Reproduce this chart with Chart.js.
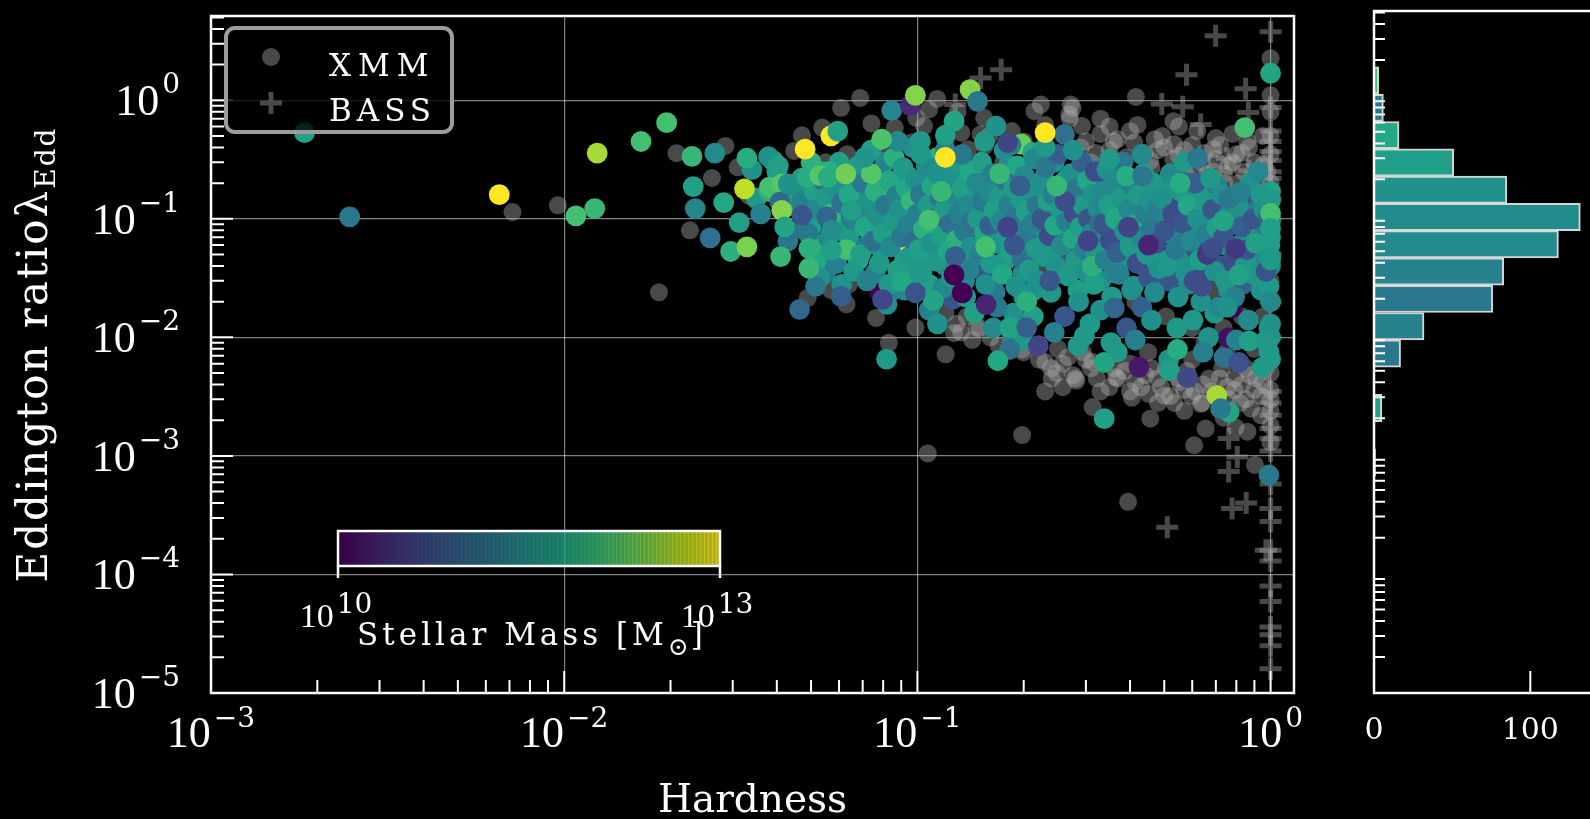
<!DOCTYPE html>
<html>
<head>
<meta charset="utf-8">
<title>Hardness vs Eddington ratio</title>
<script src="https://cdn.jsdelivr.net/npm/chart.js@4.4.1/dist/chart.umd.min.js"></script>
<style>
  html, body { margin: 0; padding: 0; background: #000; overflow: hidden; }
  #mainCanvas { position: absolute; left: 0; top: 0; }
  #histCanvas { position: absolute; left: 1310px; top: 0; }
</style>
</head>
<body>
<canvas id="mainCanvas" width="1310" height="819"></canvas>
<canvas id="histCanvas" width="280" height="819"></canvas>
<script>
// ---- values ----

// XMM sample, grey dots: [hardness, Eddington ratio]
const xmmPoints = [
  [0.00714,0.114],[0.0096,0.130],[0.01855,0.024],[0.0208,0.358],[0.0262,0.221],[0.0227,0.080],[0.0310,0.272],[0.0286,0.412],[0.0471,0.506],[0.0608,0.864],
  [0.0689,1.047],[0.0741,0.638],[0.1138,1.027],[0.1545,0.712],[0.0489,0.0215],[0.0764,0.0146],[0.0987,0.0121],[0.1202,0.0072],[0.127,0.0109],[0.198,0.0079],
  [0.198,0.0015],[0.107,0.00105],[0.3135,0.00258],[0.4564,0.00206],[0.6077,0.00123],[0.655,0.0017],[0.796,0.00174],[0.3649,0.0046],[0.282,0.00432],[0.452,0.00334],
  [0.50,0.00323],[0.634,0.00275],[0.395,0.00041],[0.903,0.00084],[0.4156,1.068],[0.531,0.667],[1.0,2.26],
  [0.0538,0.588],[0.0633,0.351],[0.0448,0.374],[0.0333,0.157],[0.0348,0.143],
  [0.0863,0.588],[0.1044,0.606],[0.1079,0.836],[0.0993,0.712],[0.1331,0.533],[0.151,0.516],[0.2146,0.81],[0.2237,0.92],[0.2695,0.76],[0.2717,0.92],
  [0.0962,0.44],[0.1391,0.387],[0.155,0.412],
  [0.275,0.864],[0.2925,0.606],[0.369,0.469],[0.411,0.44],[0.494,0.50],[0.533,0.426],[0.688,0.387],[0.6626,0.239],[0.738,0.239],[0.869,0.40],
  [0.958,0.29],[0.457,0.309],[0.574,0.29],
  [0.30,0.45],[0.33,0.52],[0.35,0.38],[0.39,0.33],[0.48,0.38],[0.55,0.34],[0.60,0.42],[0.64,0.30],[0.70,0.32],[0.78,0.30],
  [0.83,0.36],[0.88,0.22],[0.81,0.20],[0.51,0.22],[0.62,0.19],[0.72,0.16],[0.37,0.27],[0.31,0.30],[0.24,0.33],[0.20,0.28],
  [0.175,0.30],[0.42,0.62],[0.33,0.70],[0.23,0.62],[0.185,0.55],[0.13,0.80],[0.12,0.45],[0.083,0.38],[0.055,0.30],[0.051,0.17],
  [0.064,0.20],[1.0,0.50],[1.0,0.80],[1.0,1.10],[1.0,0.35],[1.0,0.20],[0.96,0.13],[1.0,0.09],
  [0.26,0.5],[0.29,0.4],[0.32,0.36],[0.36,0.45],[0.4,0.55],[0.44,0.36],[0.47,0.47],[0.5,0.4],[0.53,0.32],[0.57,0.38],
  [0.61,0.27],[0.65,0.36],[0.69,0.25],[0.72,0.42],[0.76,0.28],[0.8,0.35],[0.84,0.25],[0.86,0.45],[0.9,0.3],[0.93,0.18],
  [0.95,0.5],[0.98,0.25],[0.4,0.22],[0.46,0.27],[0.58,0.23],[0.66,0.2],[0.74,0.2],[0.82,0.17],[0.9,0.14],[0.55,0.6],
  [0.62,0.55],[0.7,0.48],[0.78,0.52],[0.35,0.6],[0.27,0.7],[0.2,0.45],[0.16,0.5],[0.22,0.36],
  [0.129,0.013],[0.138,0.015],[0.133,0.011],[0.147,0.012],[0.12,0.016],[0.143,0.0095],[0.161,0.010],[0.184,0.009],[0.23,0.0062],[0.221,0.0065],
  [0.239,0.0055],[0.248,0.005],[0.258,0.006],[0.276,0.0048],[0.267,0.0068],[0.294,0.0075],[0.313,0.0062],[0.322,0.0045],[0.35,0.0038],[0.386,0.0052],
  [0.414,0.0042],[0.442,0.0048],[0.478,0.0045],[0.506,0.0055],[0.552,0.0042],[0.57,0.0036],[0.598,0.0032],[0.644,0.004],[0.68,0.0035],[0.718,0.0045],
  [0.754,0.0038],[0.79,0.0045],[0.83,0.004],[0.85,0.003],[0.874,0.0048],[0.9,0.0036],[0.95,0.0042],[1.0,0.003],[1.0,0.0024],[1.0,0.0018],
  [1.0,0.0013],[0.94,0.0022],[0.86,0.0016],[0.736,0.0021],[0.57,0.0024],[0.534,0.0028],[0.405,0.0031],[0.258,0.0038],[0.23,0.0035],[0.083,0.009],
  [0.063,0.019],[0.064,0.028],[0.057,0.025],
  [0.2,0.0075],[0.25,0.008],[0.28,0.0045],[0.31,0.0055],[0.33,0.0035],[0.37,0.0045],[0.4,0.006],[0.43,0.0038],[0.46,0.0055],[0.49,0.0038],
  [0.52,0.0032],[0.55,0.0045],[0.58,0.0052],[0.61,0.0035],[0.64,0.0028],[0.67,0.0045],[0.7,0.0032],[0.73,0.0055],[0.76,0.003],[0.79,0.0036],
  [0.82,0.0028],[0.85,0.0055],[0.88,0.0025],[0.91,0.0045],[0.94,0.0032],[0.97,0.0055],[1.0,0.0036],[1.0,0.005],[0.48,0.0028],[0.4,0.0035],
  [0.36,0.0055],[0.3,0.0065],[0.17,0.0085],[0.15,0.012],[0.24,0.0045],[0.6,0.0065],[0.75,0.0075],[0.9,0.008],[0.65,0.009],[0.45,0.0075],
  [0.083,0.20],[0.11,0.15],[0.138,0.10],[0.184,0.06],[0.23,0.04],[0.322,0.03],[0.414,0.02],[0.506,0.015],[0.598,0.012],[0.69,0.025],
  [0.78,0.06],[0.874,0.10],[0.552,0.10],[0.46,0.15],[0.368,0.10],[0.276,0.15],[0.23,0.10],[0.184,0.20],[0.644,0.07],[0.736,0.012],
  [0.83,0.015],[0.95,0.015],[1.0,0.03],[1.0,0.06],[1.0,0.007]
];

// BASS sample, grey crosses: [hardness, Eddington ratio]
const bassPoints = [
  [0.699,3.5],[1.0,3.78],[0.578,1.64],[0.85,1.25],[0.492,0.93],[0.564,0.88],[0.634,0.626],[0.865,0.79],[0.752,0.325],[0.869,0.255],
  [0.1727,1.81],[0.151,1.54],[0.128,0.92],
  [1.0,0.87],[1.0,0.55],[1.0,0.45],[1.0,0.37],[1.0,0.31],[1.0,0.25],[1.0,0.22],[1.0,0.15],[1.0,0.10],[1.0,0.05],[1.0,0.02],[1.0,0.01],
  [1.0,0.0035],[1.0,0.0028],[1.0,0.0022],[1.0,0.0017],[1.0,0.0014],[1.0,0.0011],[1.0,0.00058],[1.0,0.00036],[1.0,0.00028],[1.0,0.00016],
  [1.0,0.00013],[1.0,0.00008],[1.0,0.000059],[1.0,0.000036],[1.0,0.000031],[1.0,0.000025],[1.0,0.000016],
  [0.761,0.0014],[0.805,0.00098],[0.761,0.00074],[0.778,0.00036],[0.853,0.0004],[0.51,0.00025],[0.97,0.00016]
];

// XMM sources with a stellar mass (coloured dots): [hardness, Eddington ratio]
const massPoints = [
  // inside the cloud
  [0.197,0.426],[0.212,0.363],[0.261,0.516],[0.0734,0.176],[0.0937,0.143],[0.0935,0.060],[0.0892,0.0777],[0.1657,0.138],[0.1453,0.148],[0.197,0.191],
  [0.2695,0.0728],[0.2497,0.0545],[0.3135,0.19],[0.338,0.134],[0.349,0.062],[0.551,0.060],[0.594,0.0465],[0.778,0.0177],[0.2755,0.0752],[0.0782,0.024],
  [0.424,0.0056],[0.761,0.0099],
  // dense core
  [0.047,0.22],[0.049,0.12],[0.050,0.085],[0.052,0.16],[0.053,0.06],[0.054,0.25],[0.055,0.035],[0.057,0.18],[0.058,0.09],[0.059,0.13],
  [0.060,0.05],[0.062,0.21],[0.063,0.145],[0.064,0.07],[0.066,0.11],[0.067,0.26],[0.068,0.045],[0.069,0.17],[0.071,0.13],[0.072,0.06],
  [0.073,0.22],[0.075,0.095],[0.076,0.035],[0.078,0.16],[0.079,0.055],[0.081,0.3],[0.082,0.09],[0.084,0.13],[0.085,0.025],[0.087,0.2],
  [0.089,0.08],[0.090,0.15],[0.092,0.045],[0.094,0.23],[0.096,0.1],[0.098,0.035],[0.099,0.16],
  [0.101,0.075],[0.103,0.14],[0.105,0.045],[0.106,0.2],[0.108,0.028],[0.110,0.12],[0.112,0.065],[0.114,0.33],[0.116,0.09],[0.118,0.16],
  [0.120,0.04],[0.122,0.23],[0.124,0.14],[0.126,0.021],[0.128,0.085],[0.130,0.19],[0.132,0.06],[0.134,0.12],[0.136,0.03],[0.138,0.22],
  [0.141,0.085],[0.143,0.15],[0.146,0.048],[0.148,0.27],[0.151,0.11],[0.154,0.035],[0.157,0.19],[0.160,0.065],[0.163,0.13],[0.166,0.024],
  [0.169,0.22],[0.172,0.08],[0.175,0.15],[0.178,0.045],[0.181,0.28],[0.184,0.11],[0.187,0.016],[0.190,0.17],[0.193,0.06],[0.196,0.1],
  [0.199,0.035],[0.202,0.21],[0.205,0.14],[0.208,0.05],[0.211,0.12],[0.214,0.025],[0.217,0.18],[0.220,0.07],
  [0.224,0.13],[0.228,0.22],[0.232,0.09],[0.236,0.05],[0.240,0.12],[0.244,0.3],[0.248,0.07],[0.252,0.17],[0.256,0.035],[0.260,0.11],
  [0.265,0.22],[0.270,0.05],[0.275,0.14],[0.280,0.08],[0.285,0.025],[0.290,0.19],[0.295,0.1],[0.300,0.06],[0.305,0.27],[0.310,0.14],
  [0.315,0.04],[0.320,0.09],[0.325,0.2],[0.330,0.03],[0.336,0.11],[0.342,0.06],[0.348,0.2],[0.354,0.15],[0.360,0.035],[0.366,0.12],
  [0.372,0.07],[0.378,0.22],[0.384,0.045],[0.390,0.16],[0.397,0.09],[0.404,0.025],[0.411,0.12],[0.418,0.06],[0.425,0.21],[0.432,0.1],
  [0.440,0.04],[0.448,0.17],[0.456,0.065],[0.464,0.11],[0.472,0.03],[0.480,0.19],[0.488,0.09],[0.496,0.045],
  [0.505,0.12],[0.515,0.03],[0.525,0.18],[0.535,0.07],[0.545,0.13],[0.555,0.045],[0.565,0.1],[0.575,0.2],[0.585,0.028],[0.595,0.085],
  [0.605,0.15],[0.615,0.055],[0.625,0.11],[0.635,0.02],[0.645,0.17],[0.655,0.04],[0.665,0.09],[0.675,0.13],[0.685,0.06],[0.695,0.016],
  [0.705,0.19],[0.715,0.1],[0.725,0.04],[0.735,0.13],[0.745,0.06],[0.76,0.025],[0.775,0.09],[0.79,0.045],[0.805,0.15],[0.82,0.06],
  [0.835,0.028],[0.85,0.11],[0.865,0.07],[0.88,0.035],[0.895,0.16],[0.91,0.05],[0.925,0.12],[0.94,0.025],[0.955,0.08],[0.97,0.045],
  [0.98,0.16],[0.99,0.012],[1.0,0.04],[1.0,0.07],[1.0,0.095],[1.0,0.17],[1.0,0.0065],[1.0,0.01],
  // cloud, hardness 0.033-0.046
  [0.034,0.26],[0.035,0.15],[0.036,0.11],[0.038,0.17],[0.040,0.25],[0.042,0.16],[0.043,0.065],[0.044,0.13],[0.041,0.048],[0.039,0.31],
  // 0.046-0.068
  [0.046,0.19],[0.047,0.14],[0.048,0.095],[0.049,0.075],[0.050,0.30],[0.051,0.17],[0.0515,0.12],[0.052,0.045],[0.053,0.032],[0.054,0.21],
  [0.055,0.15],[0.056,0.068],[0.057,0.11],[0.058,0.19],[0.059,0.042],[0.060,0.30],[0.061,0.135],[0.062,0.078],[0.063,0.055],[0.0635,0.22],
  [0.064,0.16],[0.065,0.10],[0.066,0.036],[0.0515,0.027],[0.056,0.25],[0.061,0.028],
  // 0.068-0.1
  [0.068,0.28],[0.069,0.12],[0.069,0.05],[0.070,0.20],[0.071,0.085],[0.072,0.03],[0.073,0.14],[0.074,0.38],[0.075,0.065],[0.076,0.17],
  [0.077,0.105],[0.078,0.042],[0.079,0.25],[0.080,0.075],[0.081,0.13],[0.082,0.019],[0.083,0.21],[0.084,0.058],[0.085,0.095],[0.086,0.33],
  [0.087,0.155],[0.088,0.037],[0.089,0.12],[0.090,0.07],[0.091,0.27],[0.092,0.025],[0.093,0.18],[0.094,0.088],[0.095,0.048],[0.096,0.14],
  [0.097,0.40],[0.098,0.065],[0.074,0.24],[0.083,0.028],[0.088,0.45],
  // 0.1-0.148
  [0.099,0.21],[0.100,0.11],[0.101,0.055],[0.102,0.16],[0.103,0.035],[0.104,0.082],[0.106,0.28],[0.107,0.13],[0.108,0.017],[0.109,0.062],
  [0.110,0.19],[0.111,0.10],[0.113,0.044],[0.114,0.24],[0.116,0.15],[0.117,0.072],[0.118,0.026],[0.119,0.12],[0.120,0.38],[0.122,0.053],
  [0.123,0.20],[0.124,0.09],[0.125,0.032],[0.127,0.16],[0.129,0.066],[0.130,0.29],[0.131,0.11],[0.133,0.042],[0.134,0.18],[0.136,0.078],
  [0.137,0.022],[0.139,0.13],[0.141,0.25],[0.142,0.058],[0.143,0.095],[0.145,0.016],[0.102,0.45],[0.114,0.013],[0.134,0.35],[0.108,0.098],
  [0.128,0.048],[0.117,0.17],[0.140,0.037],
  // 0.148-0.22
  [0.147,0.20],[0.148,0.10],[0.150,0.05],[0.152,0.30],[0.153,0.14],[0.155,0.075],[0.156,0.028],[0.158,0.17],[0.160,0.088],[0.161,0.042],
  [0.163,0.24],[0.165,0.12],[0.167,0.062],[0.168,0.018],[0.170,0.155],[0.172,0.095],[0.174,0.034],[0.176,0.38],[0.178,0.21],[0.179,0.07],
  [0.181,0.13],[0.183,0.052],[0.185,0.011],[0.187,0.18],[0.189,0.105],[0.190,0.027],[0.192,0.28],[0.194,0.08],[0.196,0.145],[0.198,0.046],
  [0.200,0.022],[0.201,0.23],[0.203,0.115],[0.205,0.065],[0.207,0.037],[0.209,0.165],[0.211,0.09],[0.213,0.015],[0.214,0.32],[0.216,0.056],
  [0.218,0.13],[0.220,0.03],[0.155,0.45],[0.184,0.42],[0.164,0.012],[0.199,0.0095],[0.171,0.24],[0.188,0.06],[0.204,0.02],[0.156,0.058],
  [0.180,0.085],[0.195,0.19],
  // 0.22-0.33
  [0.223,0.19],[0.225,0.10],[0.228,0.048],[0.231,0.27],[0.234,0.14],[0.236,0.072],[0.239,0.024],[0.242,0.16],[0.245,0.088],[0.247,0.04],
  [0.250,0.35],[0.253,0.12],[0.256,0.06],[0.258,0.20],[0.261,0.015],[0.264,0.095],[0.267,0.033],[0.270,0.15],[0.272,0.24],[0.275,0.068],
  [0.278,0.11],[0.281,0.045],[0.283,0.18],[0.286,0.02],[0.289,0.085],[0.292,0.30],[0.294,0.13],[0.297,0.055],[0.300,0.036],[0.303,0.21],
  [0.305,0.10],[0.308,0.013],[0.311,0.075],[0.314,0.16],[0.316,0.028],[0.319,0.25],[0.322,0.05],[0.325,0.12],[0.328,0.09],[0.330,0.017],
  [0.230,0.40],[0.276,0.38],[0.244,0.011],[0.285,0.0085],[0.262,0.14],[0.304,0.065],[0.248,0.19],[0.313,0.04],[0.237,0.03],
  // 0.33-0.48
  [0.333,0.17],[0.337,0.09],[0.340,0.045],[0.344,0.26],[0.348,0.13],[0.351,0.066],[0.355,0.022],[0.359,0.20],[0.363,0.10],[0.368,0.052],
  [0.373,0.034],[0.377,0.15],[0.382,0.30],[0.386,0.078],[0.391,0.012],[0.396,0.12],[0.400,0.058],[0.405,0.19],[0.409,0.027],[0.414,0.09],
  [0.419,0.042],[0.423,0.16],[0.428,0.07],[0.432,0.018],[0.437,0.24],[0.442,0.11],[0.446,0.05],[0.451,0.032],[0.455,0.14],[0.460,0.082],
  [0.465,0.20],[0.469,0.024],[0.474,0.062],[0.478,0.12],[0.483,0.038],[0.368,0.0075],[0.414,0.0095],[0.460,0.014],[0.350,0.32],[0.432,0.35],
  [0.396,0.085],[0.451,0.06],
  // 0.49-0.71
  [0.492,0.15],[0.501,0.08],[0.511,0.04],[0.520,0.24],[0.529,0.11],[0.538,0.055],[0.547,0.022],[0.557,0.17],[0.566,0.092],[0.575,0.035],
  [0.584,0.13],[0.593,0.065],[0.603,0.014],[0.612,0.20],[0.621,0.10],[0.630,0.045],[0.639,0.027],[0.649,0.14],[0.658,0.075],[0.667,0.01],
  [0.676,0.22],[0.685,0.12],[0.695,0.036],[0.704,0.085],[0.713,0.018],[0.515,0.0065],[0.570,0.30],[0.644,0.0075],[0.543,0.012],[0.607,0.03],
  [0.662,0.05],
  // 0.72-1
  [0.727,0.16],[0.736,0.07],[0.745,0.03],[0.764,0.11],[0.782,0.045],[0.791,0.022],[0.810,0.13],[0.828,0.085],[0.846,0.04],[0.865,0.014],
  [0.874,0.20],[0.892,0.10],[0.911,0.033],[0.920,0.25],[0.938,0.16],[0.948,0.07],[0.957,0.12],[0.99,0.027],[1.0,0.02],[0.995,0.06],
  [0.97,0.036],[1.0,0.013],[0.99,0.0075],[0.80,0.0095],[0.754,0.018],[0.856,0.055],[0.985,0.10],
  // edges and outliers
  [0.00184,0.533],[0.00247,0.104],[0.00655,0.160],[0.0108,0.106],[0.0122,0.122],[0.0124,0.358],[0.0165,0.449],[0.0195,0.647],[0.0230,0.336],[0.0232,0.187],
  [0.0235,0.122],[0.0267,0.358],[0.0283,0.137],[0.0259,0.069],[0.0313,0.093],[0.0296,0.053],[0.0329,0.058],[0.0329,0.325],[0.0324,0.179],[0.0379,0.334],
  [0.0481,0.387],[0.0569,0.50],[0.0595,0.55],[0.0792,0.469],[0.0846,0.82],[0.0954,0.903],[0.0987,1.10],[0.127,0.667],[0.120,0.507],[0.141,1.23],
  [0.148,0.98],[0.167,0.606],[0.120,0.33],[0.230,0.533],[0.180,0.44],[1.0,1.69],[0.845,0.588],[0.621,0.323],[0.391,0.229],[0.434,0.229],
  [0.555,0.20],[0.760,0.148],[0.820,0.168],[1.0,0.143],[1.0,0.111],[0.735,0.096],[1.0,0.083],[0.907,0.062],[0.684,0.0563],[0.796,0.0563],
  [1.0,0.048],[0.0464,0.0172],[0.0493,0.0383],[0.0493,0.0563],[0.0608,0.0222],[0.0797,0.0208],[0.0818,0.00655],[0.111,0.0204],[0.0899,0.0296],[0.0987,0.0237],
  [0.134,0.0237],[0.1565,0.0189],[0.1825,0.0121],[0.1825,0.0079],[0.169,0.00635],[0.204,0.0121],[0.220,0.0085],[0.127,0.0337],[0.338,0.00206],[0.704,0.00323],
  [0.763,0.00234],[0.722,0.0025],[0.338,0.00614],[0.353,0.00903],[0.517,0.00523],[0.545,0.0079],[0.582,0.00458],[0.738,0.00676],[0.814,0.00614],[0.947,0.00557],
  [0.869,0.00933],[0.968,0.00933],[0.989,0.00069],[0.814,0.0337],[1.0,0.045],[0.297,0.0103],[0.361,0.0177],[0.0404,0.28],[0.0381,0.185],[0.0413,0.197],
  [0.0408,0.138],[0.0413,0.118],[0.0431,0.197],[0.0437,0.0777],[0.0421,0.0855],[0.0471,0.107],[0.0487,0.224],[0.0529,0.231],[0.0559,0.224],[0.0627,0.239],
  [0.0554,0.104],[0.0571,0.080],[0.0571,0.0545],[0.0650,0.118],[0.1022,0.351],[0.0710,0.33]
];

// log10 stellar mass [Msun] of massPoints, same order
const massLog = [
  12.3,11.8,11.1,10.0,10.0,13.2,10.0,10.3,10.15,12.8,
  10.0,12.7,10.0,10.3,12.8,10.0,12.8,10.0,10.2,10.0,
  10.2,10.1,
  11.6,11.3,11.7,11.4,11.9,11.5,11.2,11.6,11.8,11.4, 11.5,11.7,11.3,11.6,10.9,11.5,11.8,11.4,11.6,11.2, 11.5,11.7,11.3,12.0,11.5,11.4,11.6,11.8,11.3,11.5, 11.6,11.2,11.7,11.5,11.4,11.6,11.9,
  11.5,10.8,11.6,11.4,11.7,11.3,11.5,11.9,10.9,11.6, 11.4,11.5,11.7,10.8,11.6,11.3,11.5,12.0,11.4,11.6, 10.9,11.5,11.7,11.3,11.6,10.8,11.5,11.4,11.6,11.2, 11.7,11.5,10.9,11.6,11.4,11.3,11.5,12.1,11.6,10.8, 11.4,11.6,11.5,11.3,11.7,11.5,10.9,11.6,
  10.8,11.5,11.3,11.6,10.7,11.5,11.4,10.9,11.6,11.3, 11.5,10.8,11.6,11.4,11.7,10.7,11.5,11.3,11.6,10.9, 11.4,11.6,10.8,11.5,11.3,11.6,10.7,11.5,11.4,10.9, 11.6,11.3,11.5,10.8,11.6,11.4,11.5,10.7,11.6,11.3, 11.5,10.9,11.4,11.6,11.3,10.8,11.5,11.6,
  11.4,10.8,11.6,11.3,10.7,11.5,11.6,10.9,11.4,11.5, 11.6,10.8,11.3,11.5,11.6,10.7,11.4,11.5,10.9,11.6, 11.3,11.5,10.8,11.6,11.4,11.5,10.7,11.6,11.3,11.5, 10.9,11.4,11.6,11.5,10.8,11.6,11.3,11.5,11.6,11.4, 11.5,11.6,11.4,11.6,11.5,11.7,11.6,11.5,
  11.5,11.6,11.3,11.9,11.6,11.4,11.2,11.7,12.0,11.8,
  11.5,11.3,11.6,11.2,11.9,11.7,11.4,11.8,11.5,11.2, 11.6,11.4,12.0,11.5,11.3,11.7,11.1,11.6,12.1,11.5, 11.8,11.3,11.6,11.2,11.9,11.5,
  11.6,11.4,11.7,11.2,11.8,11.3,11.5,11.7,11.1,11.9, 11.5,11.6,11.3,11.7,11.2,11.5,11.8,11.4,11.6,11.9, 11.3,11.7,11.5,11.2,11.6,11.4,11.8,11.3,11.6,12.0, 11.5,11.1,12.2,11.6,11.4,
  11.5,11.3,11.7,11.2,11.6,11.9,11.4,11.6,11.3,11.5, 11.8,10.8,11.6,11.5,11.2,11.7,11.4,11.6,11.3,11.8, 11.5,11.1,11.6,11.4,11.9,11.6,11.3,11.5,11.7,11.2, 11.6,11.4,11.8,11.5,11.1,11.7,11.6,11.5,11.2,12.1, 10.9,12.0,11.3,
  11.4,11.6,11.3,11.7,11.2,11.8,11.5,11.4,10.9,11.6, 11.3,11.7,11.5,11.2,11.6,11.4,11.8,11.5,11.1,11.6, 11.3,11.7,11.4,11.6,11.2,11.5,11.8,11.3,11.6,11.1, 11.5,11.4,11.7,11.2,11.6,11.5,11.3,11.7,11.4,11.6, 11.2,11.5,11.6,11.3,11.4,11.6,12.0,10.8,11.9,12.1, 10.6,10.9,
  11.5,10.8,11.6,11.2,11.7,10.7,11.6,11.3,11.8,11.5, 10.9,11.6,11.4,11.7,10.8,11.3,11.6,11.1,11.5,11.8, 10.7,11.6,11.2,11.5,11.7,10.9,11.6,11.3,11.5,11.8, 10.8,11.6,11.4,11.5,11.7,10.7,11.6,11.4,11.1,11.5, 11.6,11.5,11.3,11.6,10.7,10.6,12.0,11.9,10.8,
  11.4,10.8,11.3,11.5,11.7,10.7,11.6,11.4,11.8,10.9, 11.3,11.6,11.2,11.5,10.8,11.4,11.6,11.3,11.5,11.8, 10.7,11.6,11.4,10.9,11.7,11.3,11.6,10.8,11.5,11.2, 11.6,11.4,10.7,11.3,11.5,11.6,11.3,11.5,11.6,11.4, 10.6,10.3,
  11.5,10.8,11.6,11.4,10.7,11.2,11.5,11.6,10.8,11.5, 11.8,11.4,11.6,10.9,11.5,11.7,10.7,11.6,11.3,11.5, 11.6,10.8,11.5,11.7,11.4,11.5,11.6,11.3,11.6,10.7, 10.5,
  11.5,10.8,11.6,11.4,10.7,11.3,11.5,10.9,11.6,11.4, 11.5,10.8,11.6,11.4,11.6,11.3,11.5,11.6,11.4,11.7, 10.8,11.5,11.6,11.3,11.5,10.8,11.0,
  11.7,11.2,13.2,12.1,12.0,12.6,12.1,12.1,12.0,11.7, 11.35,11.4,11.8,11.1,11.65,11.9,12.4,11.85,12.7,11.5,
  13.2,13.2,11.7,12.15,11.35,10.35,12.45,11.75,11.7,12.45, 11.2,11.5,13.2,13.2,10.6,11.75,12.1,11.2,11.85,11.2,
  11.85,11.2,11.3,11.6,12.1,11.75,11.7,11.7,10.7,10.5, 11.6,11.0,12.0,11.9,10.9,10.65,11.6,11.75,11.8,10.75,
  10.0,10.3,11.75,11.1,11.8,10.9,10.6,10.0,11.7,12.6, 11.75,11.2,11.75,11.6,11.7,11.85,10.65,11.1,10.75,11.6,
  11.7,11.6,11.2,11.75,11.6,11.6,11.0,11.7,12.1,12.2, 11.0,12.45,11.5,11.15,11.75,10.8,11.85,12.2,11.85,12.35,
  11.0,11.45,11.65,11.65,11.6,11.55
];

// marginal histogram of the Eddington ratio (bin centres, counts, bar colours)
const histCenters = [1.344, 0.7941, 0.4692, 0.2773, 0.1638, 0.0968, 0.0572, 0.0338, 0.01997, 0.0118, 0.006974, 0.004121, 0.002435, 0.001439, 0.0008503];
const histCounts = [3, 6, 16, 51, 85, 132, 118, 83, 76, 32, 17, 0, 5, 0, 1];
const histColors = ['#3dbc74', '#2a788e', '#22a884', '#1f9e89', '#21918c', '#228c8d', '#238a8d', '#26828e', '#2a788e', '#26828e', '#2a788e', '#21918c', '#1fa187', '#21918c', '#2a788e'];

const xTickPowers = [-3, -2, -1, 0];
const yTickPowers = [-5, -4, -3, -2, -1, 0];
const histTickValues = [0, 100];
const massRange = [10, 13];

// ---- helpers ----
const NUM = '"Liberation Serif", "DejaVu Serif", serif';
const WORD = '"DejaVu Serif", serif';
const greyDot = 'rgba(170,170,170,0.43)';

const viridisStops = [[68,1,84],[72,36,117],[65,68,135],[53,95,141],[42,120,142],[33,145,140],[34,168,132],[68,191,112],[122,209,81],[189,223,38],[253,231,37]];
function viridis(t, alpha) {
  const s = Math.min(Math.max(t, 0), 1) * 10;
  const i = Math.min(Math.floor(s), 9), f = s - i;
  const c = viridisStops[i].map((v, k) => Math.round(v + (viridisStops[i + 1][k] - v) * f));
  return `rgba(${c[0]},${c[1]},${c[2]},${alpha === undefined ? 1 : alpha})`;
}
const massColor = m => viridis((m - massRange[0]) / (massRange[1] - massRange[0]));

// 1..9 x 10^n positions inside [min, max]
function logTicks(min, max) {
  const out = [];
  for (let e = Math.floor(Math.log10(min) + 1e-9); e <= Math.floor(Math.log10(max) + 1e-9); e++) {
    for (let k = 1; k <= 9; k++) {
      const v = k * Math.pow(10, e);
      if (v >= min * (1 - 1e-9) && v <= max * (1 + 1e-9)) out.push({ value: v, major: k === 1 });
    }
  }
  return out;
}
const decadeOnly = axis => { axis.ticks = logTicks(axis.min, axis.max).filter(t => t.major).map(t => ({ value: t.value })); };

// "10" with a raised exponent
function drawPower(ctx, exp, x, y, align, baseSize, supSize, rise) {
  const sup = exp < 0 ? '\u2212' + Math.abs(exp) : String(exp);
  ctx.font = `${baseSize}px ${NUM}`;
  const wb = ctx.measureText('10').width;
  ctx.font = `${supSize}px ${WORD}`;
  const ws = ctx.measureText(sup).width;
  const gap = 3, w = wb + gap + ws;
  const x0 = align === 'right' ? x - w : x - w / 2;
  ctx.textAlign = 'left';
  ctx.textBaseline = 'alphabetic';
  ctx.font = `${baseSize}px ${NUM}`;
  ctx.fillText('10', x0, y);
  ctx.font = `${supSize}px ${WORD}`;
  ctx.fillText(sup, x0 + wb + gap, y - rise);
}

function roundedRect(ctx, x, y, w, h, r) {
  ctx.beginPath();
  ctx.moveTo(x + r, y);
  ctx.arcTo(x + w, y, x + w, y + h, r);
  ctx.arcTo(x + w, y + h, x, y + h, r);
  ctx.arcTo(x, y + h, x, y, r);
  ctx.arcTo(x, y, x + w, y, r);
  ctx.closePath();
}

const mainDecor = {
  id: 'mainDecor',
  afterDatasetsDraw(chart) {
    const { ctx, chartArea: a, scales: { x, y } } = chart;
    ctx.save();

    // inward ticks
    ctx.strokeStyle = '#fff';
    ctx.lineWidth = 2;
    ctx.beginPath();
    logTicks(x.min, x.max).forEach(t => {
      const px = x.getPixelForValue(t.value);
      ctx.moveTo(px, a.bottom);
      ctx.lineTo(px, a.bottom - (t.major ? 22 : 13));
    });
    logTicks(y.min, y.max).forEach(t => {
      const py = y.getPixelForValue(t.value);
      ctx.moveTo(a.left, py);
      ctx.lineTo(a.left + (t.major ? 22 : 13), py);
    });
    ctx.stroke();
    ctx.lineWidth = 2.5;
    ctx.strokeRect(a.left, a.top, a.right - a.left, a.bottom - a.top);

    // tick labels
    ctx.fillStyle = '#fff';
    xTickPowers.forEach(e => drawPower(ctx, e, x.getPixelForValue(Math.pow(10, e)), a.bottom + 54, 'center', 44, 28, 20));
    yTickPowers.forEach(e => drawPower(ctx, e, a.left - 31, y.getPixelForValue(Math.pow(10, e)) + 15, 'right', 44, 28, 22));

    // axis titles
    ctx.font = `39px ${WORD}`;
    ctx.textAlign = 'center';
    ctx.fillText('Hardness', (a.left + a.right) / 2, 812);

    ctx.save();
    ctx.translate(47, (a.top + a.bottom) / 2);
    ctx.rotate(-Math.PI / 2);
    ctx.letterSpacing = '2px';
    ctx.font = `42px ${WORD}`;
    const w1 = ctx.measureText('Eddington ratio\u03bb').width;
    ctx.font = `28px ${WORD}`;
    const w2 = ctx.measureText('Edd').width;
    const start = -(w1 + w2) / 2;
    ctx.textAlign = 'left';
    ctx.font = `42px ${WORD}`;
    ctx.fillText('Eddington ratio\u03bb', start, 0);
    ctx.font = `28px ${WORD}`;
    ctx.fillText('Edd', start + w1, 8);
    ctx.letterSpacing = '0px';
    ctx.restore();

    // legend
    const lx = a.left + 15, ly = a.top + 12;
    roundedRect(ctx, lx, ly, 226, 104, 9);
    ctx.fillStyle = 'rgba(0,0,0,0.8)';
    ctx.fill();
    ctx.lineWidth = 4;
    ctx.strokeStyle = '#9c9c9c';
    ctx.stroke();
    ctx.fillStyle = greyDot;
    ctx.beginPath();
    ctx.arc(lx + 45, ly + 29, 9, 0, Math.PI * 2);
    ctx.fill();
    ctx.strokeStyle = greyDot;
    ctx.lineWidth = 5;
    ctx.beginPath();
    ctx.moveTo(lx + 34, ly + 75); ctx.lineTo(lx + 56, ly + 75);
    ctx.moveTo(lx + 45, ly + 64); ctx.lineTo(lx + 45, ly + 86);
    ctx.stroke();
    ctx.fillStyle = '#fff';
    ctx.textAlign = 'left';
    ctx.font = `31px ${WORD}`;
    ctx.letterSpacing = '7px';
    ctx.fillText('XMM', lx + 103, ly + 48);
    ctx.letterSpacing = '5px';
    ctx.fillText('BASS', lx + 103, ly + 93);
    ctx.letterSpacing = '0px';

    // colour bar inset
    const cx = a.left + 127, cy = a.bottom - 162, cw = 382, ch = 35;
    const steps = 96;
    for (let i = 0; i < steps; i++) {
      ctx.fillStyle = viridis((i + 0.5) / steps, 0.75);
      ctx.fillRect(cx + (cw * i) / steps, cy, cw / steps + 0.6, ch);
    }
    ctx.strokeStyle = '#fff';
    ctx.lineWidth = 2.5;
    ctx.strokeRect(cx, cy, cw, ch);
    ctx.beginPath();
    ctx.moveTo(cx, cy + ch); ctx.lineTo(cx, cy + ch + 12);
    ctx.moveTo(cx + cw, cy + ch); ctx.lineTo(cx + cw, cy + ch + 12);
    ctx.stroke();
    ctx.fillStyle = '#fff';
    drawPower(ctx, massRange[0], cx - 2, a.bottom - 66, 'center', 34, 28, 14);
    drawPower(ctx, massRange[1], cx + cw - 3, a.bottom - 66, 'center', 34, 28, 14);
    ctx.font = `31px ${WORD}`;
    ctx.letterSpacing = '4px';
    const t1 = 'Stellar Mass [M';
    const wt1 = ctx.measureText(t1).width;
    ctx.letterSpacing = '0px';
    ctx.font = `25px ${WORD}`;
    const wsun = ctx.measureText('\u2299').width;
    ctx.font = `31px ${WORD}`;
    const wbr = ctx.measureText(']').width;
    const tx = cx + cw / 2 - (wt1 + wsun + wbr) / 2;
    ctx.textAlign = 'left';
    ctx.letterSpacing = '4px';
    ctx.fillText(t1, tx, a.bottom - 48);
    ctx.letterSpacing = '0px';
    ctx.font = `25px ${WORD}`;
    ctx.fillText('\u2299', tx + wt1, a.bottom - 38);
    ctx.font = `31px ${WORD}`;
    ctx.fillText(']', tx + wt1 + wsun + 2, a.bottom - 48);

    ctx.restore();
  }
};

const histDecor = {
  id: 'histDecor',
  afterDatasetsDraw(chart) {
    const { ctx, chartArea: a, scales: { x, y } } = chart;
    ctx.save();
    ctx.strokeStyle = '#fff';
    ctx.lineWidth = 2;
    ctx.beginPath();
    logTicks(y.min, y.max).filter(t => !t.major).forEach(t => {
      const py = y.getPixelForValue(t.value);
      ctx.moveTo(a.left, py);
      ctx.lineTo(a.left + 11, py);
    });
    histTickValues.forEach(v => {
      const px = x.getPixelForValue(v);
      ctx.moveTo(px, a.bottom);
      ctx.lineTo(px, a.bottom - 22);
    });
    ctx.stroke();
    ctx.lineWidth = 2.5;
    ctx.beginPath();
    ctx.moveTo(a.right + 5, a.top);
    ctx.lineTo(a.left, a.top);
    ctx.lineTo(a.left, a.bottom);
    ctx.lineTo(a.right + 5, a.bottom);
    ctx.stroke();
    ctx.fillStyle = '#fff';
    ctx.font = `30px ${WORD}`;
    ctx.textAlign = 'center';
    ctx.textBaseline = 'alphabetic';
    histTickValues.forEach(v => ctx.fillText(String(v), x.getPixelForValue(v), 739));
    ctx.restore();
  }
};

// ---- main scatter ----
new Chart(document.getElementById('mainCanvas').getContext('2d'), {
  type: 'scatter',
  data: {
    datasets: [
      {
        label: 'Stellar mass',
        data: massPoints.map(p => ({ x: p[0], y: p[1] })),
        pointRadius: 10.4,
        pointBorderWidth: 0,
        pointBackgroundColor: massLog.map(massColor),
        order: 1
      },
      {
        label: 'BASS',
        data: bassPoints.map(p => ({ x: p[0], y: p[1] })),
        pointStyle: 'cross',
        pointRadius: 11,
        pointBorderWidth: 5,
        pointBorderColor: greyDot,
        order: 2
      },
      {
        label: 'XMM',
        data: xmmPoints.map(p => ({ x: p[0], y: p[1] })),
        pointRadius: 9,
        pointBorderWidth: 0,
        pointBackgroundColor: greyDot,
        order: 3
      }
    ]
  },
  options: {
    responsive: false,
    animation: false,
    events: [],
    layout: { padding: { left: 211, top: 11, right: 13, bottom: 126 } },
    plugins: { legend: { display: false }, tooltip: { enabled: false } },
    scales: {
      x: {
        type: 'logarithmic', min: 0.001, max: 1.165,
        afterBuildTicks: decadeOnly,
        ticks: { display: false },
        border: { display: false },
        grid: { color: 'rgba(255,255,255,0.5)', lineWidth: 1.2, drawTicks: false }
      },
      y: {
        type: 'logarithmic', min: 1e-5, max: 5.14,
        afterBuildTicks: decadeOnly,
        ticks: { display: false },
        border: { display: false },
        grid: { color: 'rgba(255,255,255,0.5)', lineWidth: 1.2, drawTicks: false }
      }
    }
  },
  plugins: [mainDecor]
});

// ---- marginal histogram ----
new Chart(document.getElementById('histCanvas').getContext('2d'), {
  type: 'bar',
  data: {
    datasets: [{
      data: histCenters.map((c, i) => ({ x: histCounts[i], y: c })),
      backgroundColor: histColors,
      borderColor: 'rgba(225,225,225,0.95)',
      borderWidth: 2,
      barPercentage: 1,
      categoryPercentage: 1
    }]
  },
  options: {
    indexAxis: 'y',
    responsive: false,
    animation: false,
    events: [],
    layout: { padding: { left: 64, top: 11, right: 0, bottom: 126 } },
    plugins: { legend: { display: false }, tooltip: { enabled: false } },
    scales: {
      y: {
        type: 'logarithmic', min: 1e-5, max: 5.14, offset: false,
        afterBuildTicks: decadeOnly,
        ticks: { display: false },
        border: { display: false },
        grid: { display: false, offset: false, drawTicks: false }
      },
      x: {
        type: 'linear', min: 0, max: 138.2,
        ticks: { display: false },
        border: { display: false },
        grid: { display: false, drawTicks: false }
      }
    }
  },
  plugins: [histDecor]
});
</script>
</body>
</html>
